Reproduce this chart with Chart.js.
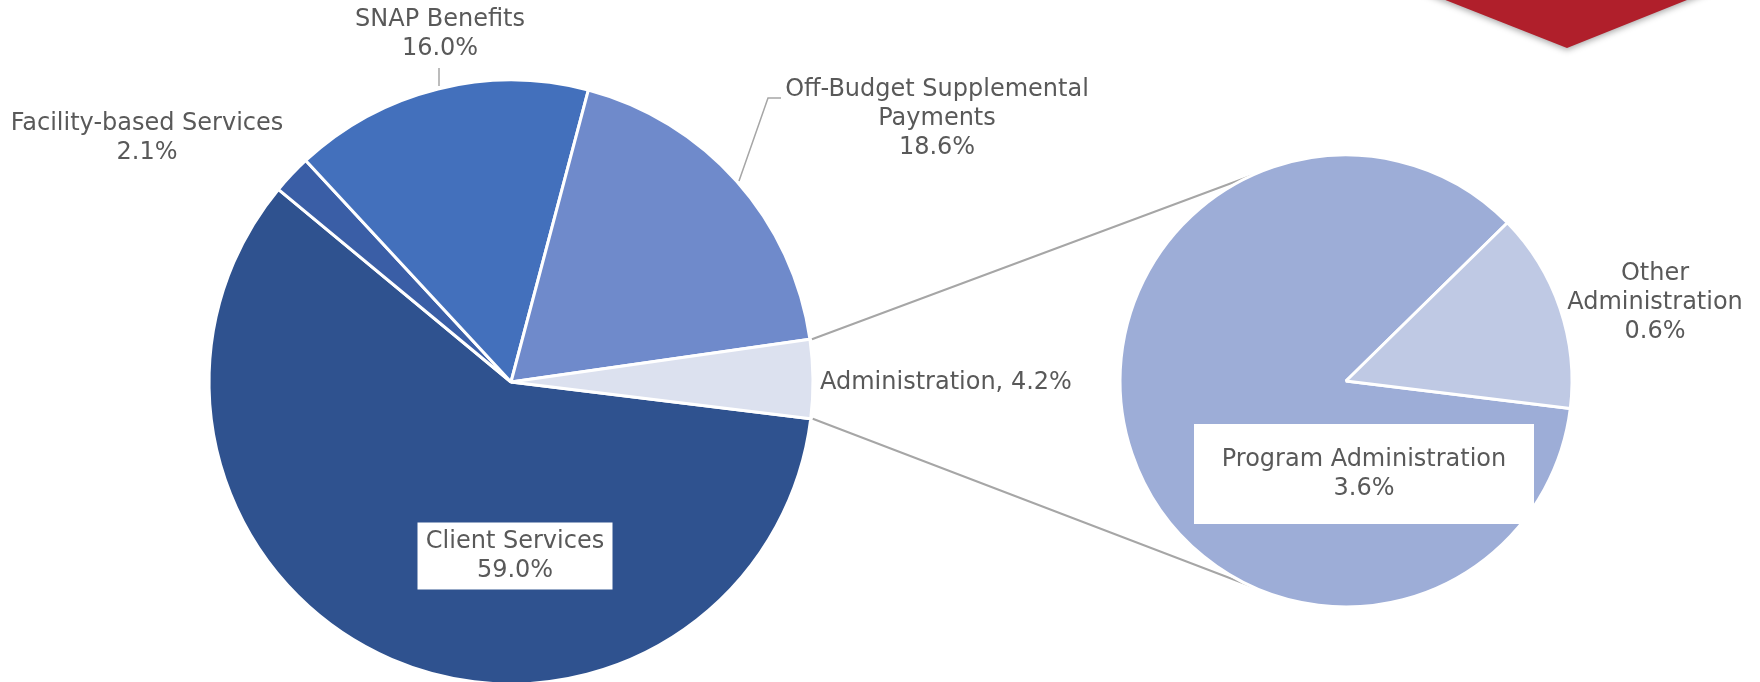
<!DOCTYPE html>
<html>
<head>
<meta charset="utf-8">
<script src="https://cdn.jsdelivr.net/npm/chart.js@4"></script>
<style>
  html, body { margin: 0; padding: 0; background: #fff; overflow: hidden; }
  #wrap { position: relative; width: 1760px; height: 682px; overflow: hidden; }
  #wrap canvas { position: absolute; left: 0; top: 0; }
</style>
</head>
<body>
<div id="wrap">
  <canvas id="mainPie" width="1760" height="700"></canvas>
  <canvas id="adminPie" width="1760" height="700"></canvas>
</div>
<script>
// Data (% of total budget)
const mainCategories = ['Client Services', 'Facility-based Services', 'SNAP Benefits', 'Off-Budget Supplemental Payments', 'Administration'];
const mainShares = [59.0, 2.1, 16.0, 18.6, 4.2];
const mainColors = ['#2F528F', '#3A5EA6', '#4370BC', '#6F8ACB', '#DCE1EF'];

const adminCategories = ['Program Administration', 'Other Administration'];
const adminShares = [3.6, 0.6];
const adminColors = ['#9DADD7', '#BFC9E4'];

const FONT = '24px "DejaVu Sans"';
const TEXT = '#595959';
const LEADER = '#A6A6A6';

// label placement: category index, centre, wrap width, optional white box
const mainLabels = [
  { i: 0, x: 515, y: 556, box: { w: 195, h: 67 } },
  { i: 1, x: 147, y: 138 },
  { i: 2, x: 440, y: 34 },
  { i: 3, x: 937, y: 119, wrap: 320 },
  { i: 4, x: 820, y: 383, inline: true }
];
const adminLabels = [
  { i: 0, x: 1364, y: 474, box: { w: 340, h: 100 } },
  { i: 1, x: 1655, y: 303, wrap: 190 }
];

function wrapText(ctx, text, width) {
  if (!width) return [text];
  const words = text.split(' ');
  const lines = [];
  let cur = '';
  words.forEach(w => {
    const test = cur ? cur + ' ' + w : w;
    if (cur && ctx.measureText(test).width > width) { lines.push(cur); cur = w; }
    else cur = test;
  });
  lines.push(cur);
  return lines;
}

function drawLabels(ctx, list, cats, vals) {
  ctx.save();
  ctx.font = FONT;
  ctx.textBaseline = 'middle';
  list.forEach(l => {
    const pct = vals[l.i].toFixed(1) + '%';
    if (l.inline) {
      ctx.textAlign = 'left';
      ctx.fillStyle = TEXT;
      ctx.fillText(cats[l.i] + ', ' + pct, l.x, l.y);
      return;
    }
    const lines = wrapText(ctx, cats[l.i], l.wrap).concat([pct]);
    const lh = 29;
    if (l.box) {
      ctx.fillStyle = '#fff';
      ctx.fillRect(l.x - l.box.w / 2, l.y - l.box.h / 2, l.box.w, l.box.h);
    }
    ctx.textAlign = 'center';
    ctx.fillStyle = TEXT;
    lines.forEach((s, k) => {
      ctx.fillText(s, l.x, l.y + (k - (lines.length - 1) / 2) * lh);
    });
  });
  ctx.restore();
}

const mainDecor = {
  id: 'mainDecor',
  afterDraw(chart) {
    const ctx = chart.ctx;
    // red banner tip, top right
    ctx.save();
    ctx.shadowColor = 'rgba(0,0,0,0.35)';
    ctx.shadowBlur = 6;
    ctx.shadowOffsetY = 2;
    ctx.fillStyle = '#B01F2B';
    ctx.beginPath();
    ctx.moveTo(1420, -10);
    ctx.lineTo(1712, -10);
    ctx.lineTo(1567, 48);
    ctx.closePath();
    ctx.fill();
    ctx.restore();

    // leader lines
    ctx.save();
    ctx.strokeStyle = LEADER;
    ctx.lineWidth = 1.5;
    ctx.beginPath();
    ctx.moveTo(439, 68); ctx.lineTo(439, 86);
    ctx.moveTo(739, 181); ctx.lineTo(768, 98); ctx.lineTo(781, 98);
    ctx.stroke();
    ctx.restore();

    drawLabels(ctx, mainLabels, mainCategories, mainShares);
  }
};

const mainChart = new Chart(document.getElementById('mainPie'), {
  type: 'pie',
  data: {
    labels: mainCategories,
    datasets: [{
      data: mainShares,
      backgroundColor: mainColors,
      borderColor: '#fff',
      borderWidth: 3,
      hoverOffset: 0
    }]
  },
  options: {
    responsive: false,
    animation: false,
    events: [],
    rotation: 97,
    radius: 302,
    layout: { padding: { left: 211, right: 949, top: 82, bottom: 18 } },
    plugins: { legend: { display: false }, tooltip: { enabled: false } }
  },
  plugins: [mainDecor]
});

const CONNECT_ANGLE = 114.6 * Math.PI / 180;

const adminDecor = {
  id: 'adminDecor',
  beforeDatasetsDraw(chart) {
    // connector lines from the Administration slice to the breakout pie
    const src = mainChart.getDatasetMeta(0).data[4];
    const dst = chart.getDatasetMeta(0).data[0];
    const R = src.outerRadius, r = dst.outerRadius;
    const ctx = chart.ctx;
    ctx.save();
    ctx.strokeStyle = LEADER;
    ctx.lineWidth = 2;
    ctx.beginPath();
    ctx.moveTo(src.x + R * Math.cos(src.startAngle) + 2, src.y + R * Math.sin(src.startAngle));
    ctx.lineTo(dst.x - r * Math.cos(Math.PI - CONNECT_ANGLE), dst.y - r * Math.sin(CONNECT_ANGLE));
    ctx.moveTo(src.x + R * Math.cos(src.endAngle) + 2, src.y + R * Math.sin(src.endAngle));
    ctx.lineTo(dst.x - r * Math.cos(Math.PI - CONNECT_ANGLE), dst.y + r * Math.sin(CONNECT_ANGLE));
    ctx.stroke();
    ctx.restore();
  },
  afterDraw(chart) {
    drawLabels(chart.ctx, adminLabels, adminCategories, adminShares);
  }
};

new Chart(document.getElementById('adminPie'), {
  type: 'pie',
  data: {
    labels: adminCategories,
    datasets: [{
      data: adminShares,
      backgroundColor: adminColors,
      borderColor: '#fff',
      borderWidth: 3,
      hoverOffset: 0
    }]
  },
  options: {
    responsive: false,
    animation: false,
    events: [],
    rotation: 97,
    radius: 226,
    layout: { padding: { left: 1146, right: 214, top: 181, bottom: 119 } },
    plugins: { legend: { display: false }, tooltip: { enabled: false } }
  },
  plugins: [adminDecor]
});
</script>
</body>
</html>
